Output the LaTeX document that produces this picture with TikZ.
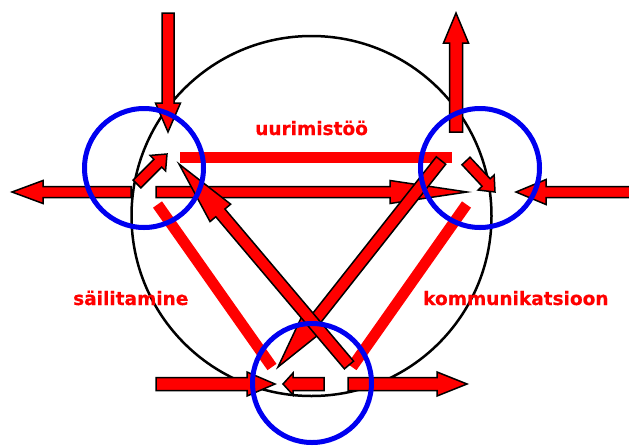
\documentclass[tikz,border=0pt]{standalone}
\usepackage{fontspec}
\setmainfont{DejaVu Sans}[BoldFont={DejaVu Sans Bold}]
\newfontfamily\lblfont{DejaVu Sans Bold}[FakeBold=0.6]
\definecolor{myred}{RGB}{255,0,0}
\definecolor{myblue}{RGB}{0,0,240}
\tikzset{
  blockarrow/.style={fill=myred,draw=black,line width=1.5pt,line join=miter},
  redbar/.style={draw=myred,line width=11pt},
  bluering/.style={draw=myblue,line width=5pt,circle,inner sep=0pt,minimum size=119pt},
  lbl/.style={text=myred,font=\lblfont\fontsize{18.5}{20}\selectfont,anchor=base west,inner sep=0pt}
}
% #1,#2 start; #3,#4 tip; #5 shaft width; #6 head width; #7 head length
\newcommand\barrow[7]{%
  \pgfmathsetmacro\bang{atan2((#2)-(#4),(#3)-(#1))}%
  \pgfmathsetmacro\blen{veclen((#3)-(#1),(#4)-(#2))}%
  \pgfmathsetmacro\bhb{\blen-(#7)}%
  \draw[blockarrow,shift={(#1,#2)},rotate=\bang] (0,-#5/2) -- (\bhb,-#5/2) -- (\bhb,-#6/2) -- (\blen,0) -- (\bhb,#6/2) -- (\bhb,#5/2) -- (0,#5/2) -- cycle;}
\begin{document}
\begin{tikzpicture}[x=1pt,y=-1pt]
\useasboundingbox (0,0) rectangle (629,445);
% big circle
\node[draw=black,line width=2.5pt,circle,inner sep=0pt,minimum size=360pt] (big) at (311.5,216) {};
% red bars (triangle)
\draw[redbar] (180,157) -- (452,157);
\draw[redbar] (157.5,204.5) -- (272,367);
\draw[redbar] (466.5,204.5) -- (352,367);
% horizontal arrows
\barrow{131}{192}{12}{192}{11}{23}{31}
\barrow{156}{192}{467}{192}{11}{23}{77}
\barrow{633}{192}{516}{192}{11}{25}{30}
% vertical arrows
\barrow{168}{13}{168}{132}{12}{25}{29}
\barrow{456}{132}{456}{13}{13}{25}{30}
% small arrows
\barrow{137}{184}{167}{154}{11}{22}{13}
\barrow{466}{161}{495}{192}{11}{22}{13}
% diagonal arrows
\barrow{441}{160.5}{278}{367}{12}{27}{58}
\barrow{349}{365}{179}{164}{12}{27}{64}
% bottom arrows
\barrow{156}{384}{275}{384}{13}{24}{28}
\barrow{324}{384}{283}{384}{13}{22}{10}
\barrow{348}{384}{467}{384}{13}{24}{30}
% labels
\node[lbl] (t1) at (255,135) {uurimistöö};
\node[lbl] (t2) at (73,305) {säilitamine};
\node[lbl] (t3) at (423,305) {kommunikatsioon};
% blue rings
\node[bluering] (c1) at (144,168) {};
\node[bluering] (c2) at (480,168) {};
\node[bluering] (c3) at (312,383) {};
\end{tikzpicture}
\end{document}
